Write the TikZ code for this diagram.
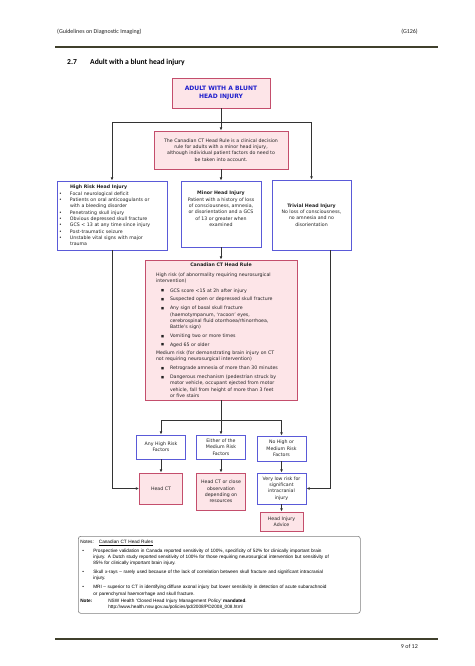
\documentclass[tikz,border=0pt]{standalone}
\usepackage{fontspec}
\setmainfont{DejaVu Sans}
\newfontfamily\notesfont{Liberation Sans}
\newfontfamily\hdrfont{Carlito}
\usetikzlibrary{arrows.meta}
\definecolor{pinkfill}{HTML}{FDE5E8}
\definecolor{pinkdraw}{HTML}{C44E6C}
\definecolor{bluedraw}{HTML}{5A5AD8}
\definecolor{titleblue}{HTML}{1E1ECC}
\definecolor{linegray}{HTML}{333333}
\definecolor{rulecol}{HTML}{40402C}
\definecolor{notesdraw}{HTML}{808080}
\definecolor{textgray}{HTML}{222222}
\newcommand\boxfont{\fontsize{4.7pt}{6.3pt}\selectfont}
\newcommand\hbl{\makebox[11pt][l]{•}}
\newcommand\bsq{\hspace*{5pt}\makebox[9pt][l]{\raisebox{0.4pt}{\fontsize{3.2pt}{4pt}\selectfont ■}}}
\newcommand\nbl{\hspace*{2pt}\makebox[11pt][l]{•}}
\newcommand\oneline[1]{\mbox{#1}}
\begin{document}
\begin{tikzpicture}[x=1pt,y=-1pt,
  pinkbox/.style={draw=pinkdraw,fill=pinkfill,line width=0.9pt,inner sep=0pt,align=center,font=\boxfont,text=textgray},
  bluebox/.style={draw=bluedraw,fill=white,line width=0.9pt,inner sep=0pt,align=center,font=\boxfont,text=textgray},
  conn/.style={draw=linegray,line width=0.8pt},
  arr/.style={conn,-{Latex[length=3.2pt,width=2.8pt]}},
  hdr/.style={font=\hdrfont\fontsize{6pt}{7pt}\selectfont,inner sep=0pt,text=textgray},
  sect/.style={font=\hdrfont\bfseries\fontsize{7.6pt}{9pt}\selectfont,inner sep=0pt,text=black},
  rule/.style={draw=rulecol,line width=1.2pt},
]
\useasboundingbox (0,0) rectangle (474,666);
\fill[white] (0,0) rectangle (474,666);

% header and footer
\node[hdr,anchor=base west] (hdrl) at (57,34) {(Guidelines on Diagnostic Imaging)};
\node[hdr,anchor=base east] (hdrr) at (418,34) {(G126)};
\draw[rule] (55,47) -- (438,47);
\node[sect,anchor=base west] (secno) at (67,64.5) {2.7};
\node[sect,anchor=base west] (sectitle) at (90,64.5) {Adult with a blunt head injury};
\draw[rule] (55,639) -- (438,639);
\node[hdr,anchor=base east] (pageno) at (418,648) {9 of 12};

% boxes
\node[pinkbox,minimum width=98pt,minimum height=30pt,font=\bfseries\fontsize{6pt}{7.3pt}\selectfont,text=titleblue] (top) at (221,93) {ADULT WITH A BLUNT\\HEAD INJURY};

\node[pinkbox,minimum width=134pt,minimum height=38pt] (canad) at (221,150) {The Canadian CT Head Rule is a clinical decision\\rule for adults with a minor head injury,\\although individual patient factors do need to\\be taken into account.};

\node[bluebox,minimum width=110pt,minimum height=69pt,text width=106pt,inner xsep=2pt,align=left] (high) at (112,215.5) {%
\hspace*{11pt}\oneline{\bfseries High Risk Head Injury}\\
\hbl\oneline{Focal neurological deficit}\\
\hbl\oneline{Patients on oral anticoagulants or}\\
\hspace*{11pt}\oneline{with a bleeding disorder}\\
\hbl\oneline{Penetrating skull injury}\\
\hbl\oneline{Obvious depressed skull fracture}\\
\hbl\oneline{GCS < 13 at any time since injury}\\
\hbl\oneline{Post-traumatic seizure}\\
\hbl\oneline{Unstable vital signs with major}\\
\hspace*{11pt}\oneline{trauma}};

\node[bluebox,minimum width=80pt,minimum height=66pt] (minor) at (221,214) {\textbf{Minor Head Injury}\\Patient with a history of loss\\of consciousness, amnesia,\\or disorientation and a GCS\\of 13 or greater when\\examined\\[4pt]};

\node[bluebox,minimum width=79pt,minimum height=70pt] (trivial) at (311.5,215) {\textbf{Trivial Head Injury}\\No loss of consciousness,\\no amnesia and no\\disorientation};

\node[pinkbox,minimum width=152pt,minimum height=140pt,text width=130pt,inner xsep=11pt,align=left] (big) at (221,330) {%
\centerline{\bfseries Canadian CT Head Rule}\par\vspace{4pt}
\oneline{High risk (of abnormality requiring neurosurgical}\newline
\oneline{intervention)}\par\vspace{3pt}
\bsq\oneline{GCS score <15 at 2h after injury}\par\vspace{2.5pt}
\bsq\oneline{Suspected open or depressed skull fracture}\par\vspace{2.5pt}
\bsq\oneline{Any sign of basal skull fracture}\newline
\hspace*{14pt}\oneline{(haemotympanum, ‘racoon’ eyes,}\newline
\hspace*{14pt}\oneline{cerebrospinal fluid otorrhoea/rhinorrhoea,}\newline
\hspace*{14pt}\oneline{Battle’s sign)}\par\vspace{2.5pt}
\bsq\oneline{Vomiting two or more times}\par\vspace{2.5pt}
\bsq\oneline{Aged 65 or older}\par\vspace{1.5pt}
\oneline{Medium risk (for demonstrating brain injury on CT}\newline
\oneline{not requiring neurosurgical intervention)}\par\vspace{3pt}
\bsq\oneline{Retrograde amnesia of more than 30 minutes}\par\vspace{2.5pt}
\bsq\oneline{Dangerous mechanism (pedestrian struck by}\newline
\hspace*{14pt}\oneline{motor vehicle, occupant ejected from motor}\newline
\hspace*{14pt}\oneline{vehicle, fall from height of more than 3 feet}\newline
\hspace*{14pt}\oneline{or five stairs}};

\node[bluebox,minimum width=49pt,minimum height=24pt] (anyhigh) at (161,447) {Any High Risk\\Factors};
\node[bluebox,minimum width=49pt,minimum height=24pt] (either) at (221,447) {Either of the\\Medium Risk\\Factors};
\node[bluebox,minimum width=49pt,minimum height=25pt] (nohigh) at (281.5,448.5) {No High or\\Medium Risk\\Factors};

\node[pinkbox,minimum width=43pt,minimum height=31pt] (headct) at (161,488.5) {Head CT};
\node[pinkbox,minimum width=49pt,minimum height=37pt] (headctclose) at (221,491.5) {Head CT or close\\observation\\depending on\\resources};
\node[bluebox,minimum width=49pt,minimum height=31pt] (verylow) at (281.5,488.5) {Very low risk for\\significant\\intracranial\\injury};
\node[pinkbox,minimum width=43pt,minimum height=19pt] (advice) at (281.5,521.5) {Head Injury\\Advice};

% connectors
\coordinate (s1) at (221,122.5);
\draw[conn] (top) -- (s1);
\draw[arr] (s1) -- (canad);
\draw[arr] (s1) -| (high);
\draw[arr] (s1) -| (trivial);
\draw[arr] (canad) -- (minor);
\draw[arr] (minor) -- (big);
\coordinate (s2) at (221,420);
\draw[conn] (big) -- (s2);
\draw[arr] (s2) -| (anyhigh);
\draw[arr] (s2) -- (either);
\draw[arr] (s2) -| (nohigh);
\draw[arr] (anyhigh) -- (headct);
\draw[arr] (either) -- (headctclose);
\draw[arr] (nohigh) -- (verylow);
\draw[arr] (verylow) -- (advice);
\draw[arr] (high.south) |- (headct.west);
\draw[arr] ([xshift=18.5pt]trivial.south) |- (verylow.east);

% notes
\node[draw=notesdraw,line width=0.6pt,rounded corners=2.5pt,fill=white,anchor=north west,inner xsep=2pt,inner ysep=2pt,text width=278pt,minimum height=77pt,align=left,font=\notesfont\fontsize{4.7pt}{6.3pt}\selectfont,text=black] (notes) at (78,536) {%
\oneline{Notes:\hspace{5pt}\underline{Canadian CT Head Rules}}\par\vspace{2.5pt}
\nbl\oneline{Prospective validation in Canada reported sensitivity of 100\%, specificity of 52\% for clinically important brain}\newline
\hspace*{13pt}\oneline{injury. A Dutch study reported sensitivity of 100\% for those requiring neurosurgical intervention but sensitivity of}\newline
\hspace*{13pt}\oneline{85\% for clinically important brain injury.}\par\vspace{2.5pt}
\nbl\oneline{Skull x-rays – rarely used because of the lack of correlation between skull fracture and significant intracranial}\newline
\hspace*{13pt}\oneline{injury.}\par\vspace{2.5pt}
\nbl\oneline{MRI – superior to CT in identifying diffuse axonal injury but lower sensitivity in detection of acute subarachnoid}\newline
\hspace*{13pt}\oneline{or parenchymal haemorrhage and skull fracture.}\par\vspace{1pt}
\makebox[28pt][l]{\textbf{Note:}}\oneline{NSW Health ‘Closed Head Injury Management Policy’ \textbf{mandated}.}\newline
\hspace*{28pt}\oneline{http://www.health.nsw.gov.au/policies/pd/2008/PD2008\_008.html}};
\end{tikzpicture}
\end{document}
